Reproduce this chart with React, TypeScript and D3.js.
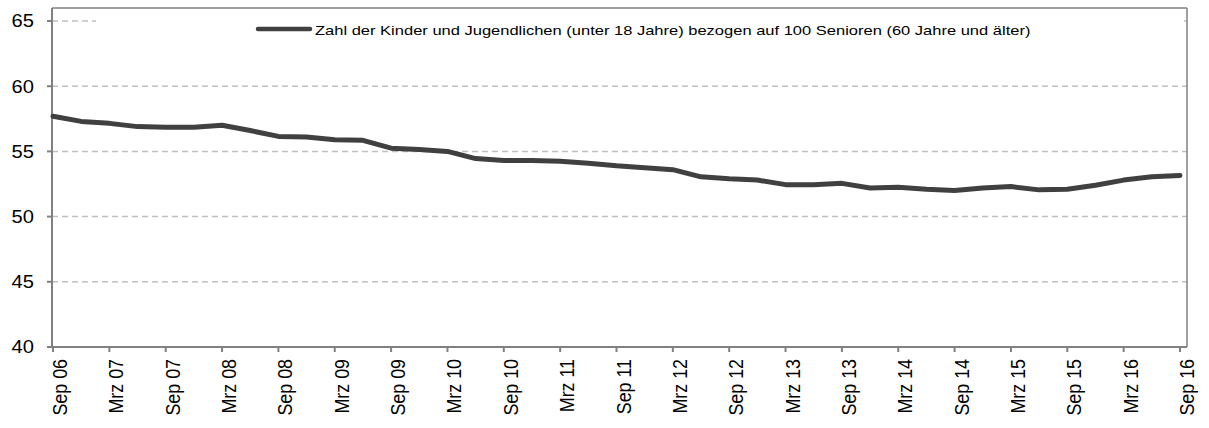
import React from 'react';
import * as d3 from 'd3';

// quarterly, Sep 06 .. Sep 16
const quarters = [
  'Sep 06', 'Dez 06', 'Mrz 07', 'Jun 07', 'Sep 07', 'Dez 07', 'Mrz 08', 'Jun 08',
  'Sep 08', 'Dez 08', 'Mrz 09', 'Jun 09', 'Sep 09', 'Dez 09', 'Mrz 10', 'Jun 10',
  'Sep 10', 'Dez 10', 'Mrz 11', 'Jun 11', 'Sep 11', 'Dez 11', 'Mrz 12', 'Jun 12',
  'Sep 12', 'Dez 12', 'Mrz 13', 'Jun 13', 'Sep 13', 'Dez 13', 'Mrz 14', 'Jun 14',
  'Sep 14', 'Dez 14', 'Mrz 15', 'Jun 15', 'Sep 15', 'Dez 15', 'Mrz 16', 'Jun 16',
  'Sep 16',
];
const values = [
  57.7, 57.3, 57.15, 56.9, 56.85, 56.85, 57.0, 56.6,
  56.15, 56.1, 55.9, 55.85, 55.25, 55.15, 55.0, 54.45,
  54.3, 54.3, 54.25, 54.1, 53.9, 53.75, 53.6, 53.05,
  52.9, 52.8, 52.45, 52.45, 52.55, 52.2, 52.25, 52.1,
  52.0, 52.2, 52.3, 52.05, 52.1, 52.4, 52.8, 53.05,
  53.15,
];
const yTicks = [40, 45, 50, 55, 60, 65];
const legendLabel =
  'Zahl der Kinder und Jugendlichen (unter 18 Jahre) bezogen auf 100 Senioren (60 Jahre und älter)';

const W = 1209;
const H = 428;
const left = 52;
const right = 1187;
const top = 8;
const bottom = 347;

export default function App() {
  const x = d3.scaleLinear().domain([0, quarters.length - 1]).range([53, 1180]);
  const y = d3.scaleLinear().domain([40, 65]).range([bottom, 21]);
  const path = d3
    .line<number>()
    .x((_, i) => x(i))
    .y((d) => y(d))(values);
  const labelIdx = quarters.map((_, i) => i).filter((i) => i % 2 === 0);
  const font = '"Liberation Sans", Arial, sans-serif';

  return (
    <svg
      width={W}
      height={H}
      style={{ position: 'absolute', left: 0, top: 0 }}
      fontFamily={font}
    >
      <rect x={0} y={0} width={W} height={H} fill="#fff" />
      {/* grid */}
      {yTicks.filter((t) => t > 40).map((t) => (
        <line
          key={t}
          x1={left}
          x2={right}
          y1={y(t)}
          y2={y(t)}
          stroke="#c0c0c0"
          strokeWidth={1.5}
          strokeDasharray="6,4"
        />
      ))}
      {/* legend box */}
      <rect x={96} y={12} width={1088} height={36} fill="#fff" />
      <line x1={258} x2={310} y1={29} y2={29} stroke="#404040" strokeWidth={4.5} strokeLinecap="round" />
      <text
        transform="translate(315,35) scale(1.3,1.02)"
        fontSize={12.7}
        fill="#000"
      >
        {legendLabel}
      </text>
      {/* frame */}
      <line x1={left} x2={right} y1={top} y2={top} stroke="#808080" strokeWidth={1.5} />
      <line x1={right} x2={right} y1={top} y2={bottom} stroke="#808080" strokeWidth={1.5} />
      <line x1={left} x2={left} y1={top} y2={bottom + 1} stroke="#808080" strokeWidth={2} />
      <line x1={left - 1} x2={right} y1={bottom} y2={bottom} stroke="#808080" strokeWidth={2} />
      {/* y axis */}
      {yTicks.map((t) => (
        <g key={t}>
          <line x1={left - 5} x2={left} y1={y(t)} y2={y(t)} stroke="#808080" strokeWidth={2} />
          <text
            transform={`translate(34,${y(t) + 6.3}) scale(1.15,1)`}
            fontSize={17.5}
            textAnchor="end"
            fill="#000"
          >
            {t}
          </text>
        </g>
      ))}
      {/* x axis */}
      {labelIdx.map((i) => (
        <g key={i}>
          <line x1={x(i)} x2={x(i)} y1={bottom} y2={bottom + 5} stroke="#808080" strokeWidth={2} />
          <text
            transform={`translate(${x(i) + 14},${bottom + 12}) rotate(-90) scale(1.02,1.18)`}
            fontSize={17.5}
            textAnchor="end"
            fill="#000"
          >
            {quarters[i]}
          </text>
        </g>
      ))}
      {/* series */}
      <path
        d={path ?? ''}
        fill="none"
        stroke="#404040"
        strokeWidth={5}
        strokeLinejoin="round"
        strokeLinecap="round"
      />
    </svg>
  );
}
